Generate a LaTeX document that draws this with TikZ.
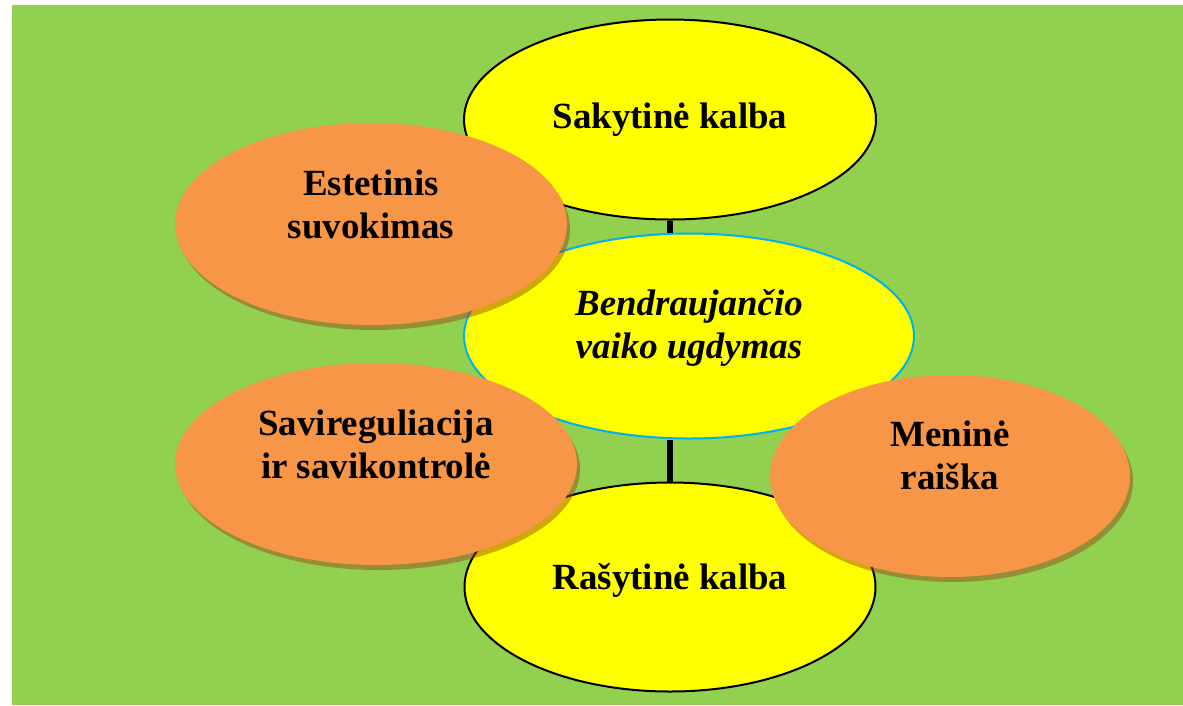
\documentclass[tikz,border=0pt]{standalone}
\usepackage{fontspec}
\setmainfont{Liberation Serif}
\usetikzlibrary{shapes.geometric, shadows, positioning}
\definecolor{prato}{HTML}{92D050}
\definecolor{giallo}{HTML}{FFFF00}
\definecolor{arancio}{HTML}{F79646}
\definecolor{celeste}{HTML}{00B0F0}
\definecolor{ombra}{RGB}{155,60,25}

\begin{document}
\begin{tikzpicture}[
    gialla/.style={draw, ellipse, fill=giallo, line width=0.04cm, inner sep=0pt},
    arancia/.style={ellipse, fill=arancio, inner sep=0pt, minimum height=4.04cm,
      drop shadow={shadow xshift=0.06cm, shadow yshift=-0.1cm, fill=ombra, opacity=0.45}},
    testo/.style={align=center, inner sep=0pt, font=\bfseries\fontsize{21}{24.5}\selectfont}
  ]
    \useasboundingbox (0,0) rectangle (23.66,-14.10);
    \fill[prato] (0.24,-0.10) rectangle (23.66,-14.10);

    \node[gialla, draw=celeste, minimum width=9cm, minimum height=4.1cm]
      (B) at (13.78,-6.72) {};
    \node[gialla, minimum width=8.24cm, minimum height=4cm, above=0.24cm of B, xshift=-0.38cm]
      (S) {};
    \node[gialla, minimum width=8.22cm, minimum height=4.18cm, below=0.84cm of B, xshift=-0.38cm]
      (R) {};

    \draw[line width=0.11cm] (S.south) -- (S.south |- B.north);
    \draw[line width=0.11cm] (R.north) -- (R.north |- B.south);

    \node[testo] (Stxt) at (S) {Sakytinė kalba};
    \node[testo, font=\bfseries\itshape\fontsize{21}{24.5}\selectfont, yshift=0.16cm]
      (Btxt) at (B) {Bendraujančio\\vaiko ugdymas};
    \node[testo, yshift=0.14cm] (Rtxt) at (R) {Rašytinė kalba};

    \node[arancia, minimum width=7.84cm] (E) at (7.42,-4.48) {};
    \node[testo, yshift=0.4cm] (Etxt) at (E) {Estetinis\\suvokimas};

    \node[arancia, minimum width=8.04cm] (SV) at (7.52,-9.28) {};
    \node[testo, yshift=0.4cm] (SVtxt) at (SV) {Savireguliacija\\ir savikontrolė};

    \node[arancia, minimum width=7.2cm] (M) at (19.00,-9.52) {};
    \node[testo, yshift=0.42cm] (Mtxt) at (M) {Meninė\\raiška};
  \end{tikzpicture}
\end{document}
